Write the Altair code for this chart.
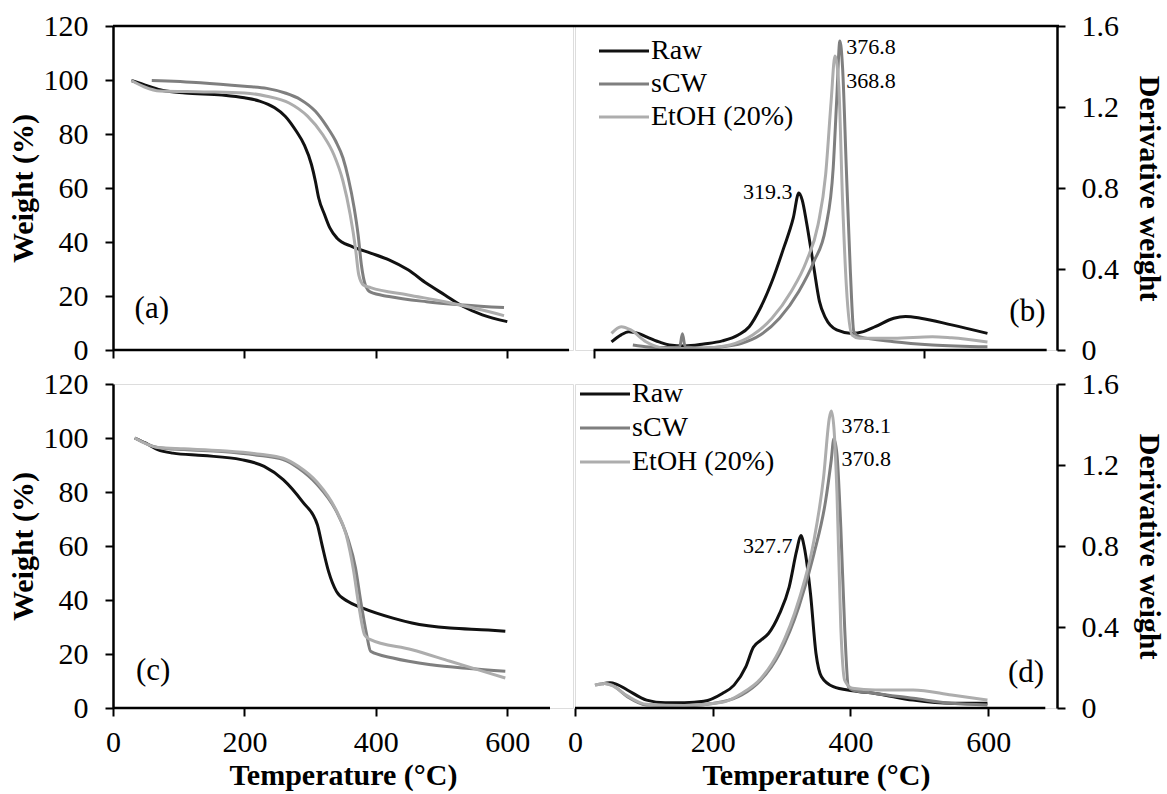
import altair as alt
import pandas as pd

FONT = "Liberation Serif"
SERIES = ["Raw", "sCW", "EtOH (20%)"]
COLORS = ["#111111", "#7f7f7f", "#adadad"]

# ---------------- panel (a): TGA ----------------
A_RAW_T = [28, 54, 76, 110, 166, 200, 223, 246, 262, 279, 291, 302, 308, 313, 322, 330, 341, 364, 392, 420, 449, 477, 505, 533, 562, 600]
A_RAW_W = [99.8, 97.7, 96.1, 95.2, 94.4, 93.4, 92.2, 89.7, 86.6, 81, 76, 68.7, 62.5, 56.3, 50.1, 45.2, 41.4, 38.3, 35.9, 33.4, 29.7, 24.7, 20.4, 16.1, 13, 10.5]
A_SCW_T = [59, 133, 200, 234, 262, 285, 308, 325, 339, 350, 358, 367, 373, 378, 384, 392, 420, 477, 533, 595]
A_SCW_W = [99.8, 99, 97.7, 96.9, 95.2, 92.8, 88.4, 82.9, 77.3, 71.1, 63.7, 52.6, 42.7, 31.5, 24.1, 21.4, 19.8, 17.9, 16.7, 15.7]
A_ETOH_T = [28, 48, 71, 138, 200, 234, 268, 296, 319, 336, 350, 361, 369, 374, 381, 392, 449, 505, 562, 595]
A_ETOH_W = [99.8, 97.4, 95.9, 95.6, 95.2, 94, 91.5, 86.6, 79.8, 72.4, 62.5, 50.1, 37.7, 27.8, 24.1, 23.1, 20.4, 17.9, 14.8, 12.7]

# ---------------- panel (b): DTG ----------------
B_RAW_T = [46, 60, 71, 85, 96, 115, 130, 152, 180, 207, 230, 246, 262, 279, 296, 310, 318, 323, 329, 340, 348, 357, 373, 395, 412, 429, 456, 473, 495, 540, 592]
B_RAW_D = [0.04, 0.075, 0.09, 0.082, 0.066, 0.04, 0.025, 0.02, 0.03, 0.045, 0.074, 0.115, 0.206, 0.338, 0.503, 0.652, 0.775, 0.74, 0.635, 0.404, 0.24, 0.157, 0.099, 0.082, 0.091, 0.115, 0.157, 0.165, 0.157, 0.124, 0.082]
B_SCW_T = [77, 100, 130, 145, 149, 153, 180, 207, 235, 262, 290, 318, 340, 357, 368, 373, 377.7, 381.6, 387, 392.7, 398, 406, 456, 512, 592]
B_SCW_D = [0.025, 0.015, 0.012, 0.015, 0.08, 0.015, 0.01, 0.016, 0.033, 0.074, 0.157, 0.289, 0.437, 0.602, 0.9, 1.23, 1.526, 1.394, 0.9, 0.404, 0.09, 0.066, 0.041, 0.025, 0.016]
B_ETOH_T = [46, 60, 74, 96, 124, 150, 179, 218, 251, 279, 307, 329, 346, 357, 365, 370.5, 376, 381.6, 387, 395.5, 406, 456, 512, 540, 592]
B_ETOH_D = [0.082, 0.115, 0.099, 0.041, 0.008, 0.005, 0.008, 0.025, 0.074, 0.157, 0.289, 0.437, 0.619, 0.866, 1.229, 1.452, 1.31, 0.734, 0.322, 0.074, 0.058, 0.058, 0.066, 0.06, 0.04]

# ---------------- panel (c): TGA ----------------
C_RAW_T = [33, 50, 68, 91, 137, 195, 230, 259, 288, 311, 318, 328, 340, 357, 380, 426, 455, 513, 571, 597]
C_RAW_W = [100, 98.1, 95.7, 94.4, 93.5, 92, 89.5, 84.6, 76.5, 67.9, 60.5, 50.6, 43.2, 39.5, 37, 33.3, 31.5, 29.6, 28.9, 28.4]
C_SCW_T = [33, 68, 108, 166, 224, 259, 282, 311, 340, 357, 369, 377, 386, 392, 426, 484, 542, 597]
C_SCW_W = [100, 96.5, 95.7, 95, 93.5, 92, 88.9, 82.7, 72.8, 63, 51.9, 39.5, 27.2, 21, 18.5, 16, 14.6, 13.6]
C_ETOH_T = [33, 68, 108, 166, 224, 259, 282, 311, 338, 355, 366, 374, 383, 390, 455, 513, 571, 597]
C_ETOH_W = [100, 96.5, 96, 95.3, 94, 92.5, 89.5, 83.5, 74, 64, 51, 38, 27, 25.5, 21.6, 17.3, 13, 11.1]

# ---------------- panel (d): DTG ----------------
D_RAW_T = [40, 51, 60, 76, 104, 131, 159, 187, 214, 231, 248, 259, 270, 281, 297, 311, 322, 328, 333, 342, 350, 358, 375, 403, 436, 491, 547, 599]
D_RAW_D = [0.12, 0.125, 0.118, 0.089, 0.039, 0.026, 0.026, 0.033, 0.072, 0.113, 0.203, 0.30, 0.335, 0.368, 0.466, 0.597, 0.778, 0.852, 0.794, 0.565, 0.269, 0.154, 0.105, 0.085, 0.072, 0.039, 0.023, 0.023]
D_SCW_T = [29, 43, 54, 76, 104, 159, 214, 242, 270, 297, 325, 347, 364, 372, 376, 380.5, 386, 391.6, 397, 403, 436, 491, 547, 599]
D_SCW_D = [0.113, 0.121, 0.113, 0.056, 0.015, 0.012, 0.031, 0.064, 0.138, 0.269, 0.499, 0.761, 1.024, 1.22, 1.33, 1.25, 0.893, 0.4, 0.105, 0.089, 0.072, 0.048, 0.023, 0.015]
D_ETOH_T = [29, 43, 54, 76, 104, 159, 214, 242, 270, 297, 325, 347, 361, 369.5, 372.2, 376, 380.5, 386, 391.6, 403, 436, 491, 547, 599]
D_ETOH_D = [0.113, 0.121, 0.11, 0.06, 0.018, 0.012, 0.028, 0.072, 0.146, 0.286, 0.532, 0.827, 1.139, 1.434, 1.467, 1.385, 1.057, 0.40, 0.138, 0.097, 0.089, 0.089, 0.064, 0.039]

# ---------------- axes / annotations ----------------
X_TICKS = [0, 200, 400, 600]
B_X_TICKS = [20, 500]
W_TICKS = [0, 20, 40, 60, 80, 100, 120]
D_TICKS = [0, 0.4, 0.8, 1.2, 1.6]
X_DOMAIN = [0, 700]
B_X_DOMAIN = [-7, 693]
W_DOMAIN = [0, 120]
D_DOMAIN = [0, 1.6]
BASELINES = {"a": [0, 694], "b": [20, 678], "c": [0, 665], "d": [0, 683]}

PEAKS_B = [(387, 1.497, "376.8", "left"), (387, 1.33, "368.8", "left"), (309, 0.778, "319.3", "right")]
PEAKS_D = [(387, 1.393, "378.1", "left"), (387, 1.231, "370.8", "left"), (316, 0.802, "327.7", "right")]
TAGS = {"a": (59, 15.2, "(a)"), "b": (650, 0.188, "(b)"), "c": (61, 13.7, "(c)"), "d": (655, 0.172, "(d)")}

LW = 460   # left panel plot width
RW = 482   # right panel plot width
H = 324    # panel height
TICK_FS = 30


def long_df(ts, vs):
    rows = []
    for name, t, v in zip(SERIES, ts, vs):
        for a, b in zip(t, v):
            rows.append({"series": name, "T": a, "V": b})
    return pd.DataFrame(rows)


def panel(ts, vs, key, x_domain, x_ticks, y_domain, y_ticks, right, bottom, width,
          top_line, peaks, legend, legend_pos):
    xkw = dict(values=x_ticks, domain=False, ticks=True, tickSize=8, tickWidth=2,
               tickColor="black", grid=False, labels=bottom, labelFlush=False,
               labelOverlap=False)
    if bottom:
        xkw.update(labelFont=FONT, labelFontSize=TICK_FS, labelColor="black", labelPadding=11,
                   title="Temperature (°C)", titleFont=FONT, titleFontSize=30,
                   titleFontWeight="bold", titleColor="black", titlePadding=3)
    else:
        xkw.update(title="")
    ykw = dict(values=y_ticks, orient="right" if right else "left", domain=True,
               domainColor="black", domainWidth=2.5, ticks=True, tickSize=8, tickWidth=2,
               tickColor="black", grid=False, labelFont=FONT, labelFontSize=TICK_FS,
               labelColor="black", labelPadding=16 if right else 17, labelOverlap=False,
               title="Derivative weight" if right else "Weight (%)", titleFont=FONT,
               titleFontSize=30, titleFontWeight="bold", titleColor="black",
               titlePadding=15 if right else 5)
    if right:
        ykw["labelExpr"] = "datum.value == 0 ? '0' : format(datum.value, '.1f')"

    xs = alt.Scale(domain=x_domain, nice=False, zero=False)
    ys = alt.Scale(domain=y_domain, nice=False)
    cs = alt.Scale(domain=SERIES, range=COLORS)

    def X(field):
        return alt.X(field, scale=xs, axis=alt.Axis(**xkw))

    def Y(field):
        return alt.Y(field, scale=ys, axis=alt.Axis(**ykw))

    df = long_df(ts, vs)
    lines = alt.Chart(df).mark_line(strokeWidth=3, interpolate="monotone", clip=True).encode(
        x=X("T:Q"), y=Y("V:Q"),
        color=alt.Color("series:N", scale=cs, legend=None),
    )
    layers = [lines]

    base = BASELINES[key]
    layers.append(alt.Chart(pd.DataFrame({"x0": [base[0]], "x1": [base[1]]})).mark_rule(
        color="black", strokeWidth=2.5).encode(
        x=X("x0:Q"), x2="x1:Q", y=alt.value(H)))

    if top_line:
        layers.append(alt.Chart(pd.DataFrame({"k": [0]})).mark_rule(
            color="black", strokeWidth=2.5).encode(
            x=alt.value(0), x2=alt.value(width + 2), y=alt.value(0)))

    for (t, v, s, al) in peaks:
        layers.append(alt.Chart(pd.DataFrame({"T": [t], "V": [v], "s": [s]})).mark_text(
            font=FONT, fontSize=22, color="black", align=al, baseline="middle").encode(
            x=X("T:Q"), y=Y("V:Q"), text="s:N"))

    tx, tv, ts_ = TAGS[key]
    layers.append(alt.Chart(pd.DataFrame({"T": [tx], "V": [tv], "s": [ts_]})).mark_text(
        font=FONT, fontSize=31, color="black", align="center", baseline="middle").encode(
        x=X("T:Q"), y=Y("V:Q"), text="s:N"))

    if legend:
        lx, ly, sp = legend_pos
        for i, name in enumerate(SERIES):
            ldf = pd.DataFrame({"series": [name]})
            layers.append(alt.Chart(ldf).mark_rule(strokeWidth=3).encode(
                x=alt.value(lx), x2=alt.value(lx + 50), y=alt.value(ly + i * sp),
                color=alt.Color("series:N", scale=cs, legend=None)))
            layers.append(alt.Chart(ldf).mark_text(
                font=FONT, fontSize=28, color="black", align="left", baseline="middle").encode(
                x=alt.value(lx + 52), y=alt.value(ly + i * sp), text="series:N"))

    return alt.layer(*layers).properties(width=width, height=H)


pa = panel([A_RAW_T, A_SCW_T, A_ETOH_T], [A_RAW_W, A_SCW_W, A_ETOH_W], "a",
           X_DOMAIN, X_TICKS, W_DOMAIN, W_TICKS, False, False, LW, True, [], False, None)
pb = panel([B_RAW_T, B_SCW_T, B_ETOH_T], [B_RAW_D, B_SCW_D, B_ETOH_D], "b",
           B_X_DOMAIN, B_X_TICKS, D_DOMAIN, D_TICKS, True, False, RW, True, PEAKS_B, True, (24, 25, 33))
pc = panel([C_RAW_T, C_SCW_T, C_ETOH_T], [C_RAW_W, C_SCW_W, C_ETOH_W], "c",
           X_DOMAIN, X_TICKS, W_DOMAIN, W_TICKS, False, True, LW, False, [], False, None)
pd_ = panel([D_RAW_T, D_SCW_T, D_ETOH_T], [D_RAW_D, D_SCW_D, D_ETOH_D], "d",
            X_DOMAIN, X_TICKS, D_DOMAIN, D_TICKS, True, True, RW, False, PEAKS_D, True, (5, 10, 34))

chart = alt.concat(pa, pb, pc, pd_, columns=2, bounds="flush",
                   spacing=alt.RowColnumber(row=34, column=2)).properties(
    padding={"left": 7, "top": 10, "right": 2, "bottom": 2}
).configure_view(stroke="transparent", strokeWidth=0, fill="white").configure(background="white")

chart.save("out.html", embed_options={"renderer": "svg", "actions": False})
